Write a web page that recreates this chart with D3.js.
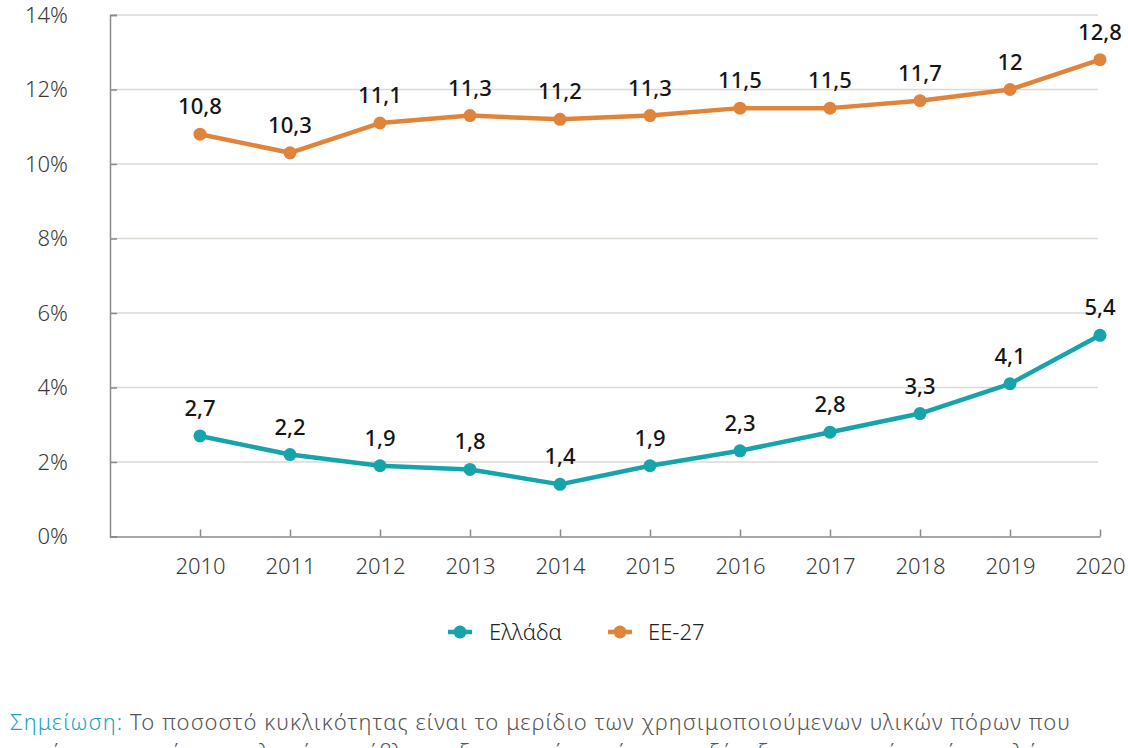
<!DOCTYPE html>
<html>
<head>
<meta charset="utf-8">
<script src="https://cdn.jsdelivr.net/npm/d3@7"></script>
<style>
  body { margin: 0; background: #fff; }
  svg { display: block; font-family: "Noto Sans", "DejaVu Sans", sans-serif; }
</style>
</head>
<body>
<div id="chart"></div>
<script>
// data
const years = ["2010", "2011", "2012", "2013", "2014", "2015", "2016", "2017", "2018", "2019", "2020"];
const greece = [2.7, 2.2, 1.9, 1.8, 1.4, 1.9, 2.3, 2.8, 3.3, 4.1, 5.4];
const eu27 = [10.8, 10.3, 11.1, 11.3, 11.2, 11.3, 11.5, 11.5, 11.7, 12, 12.8];
const yTicks = [0, 2, 4, 6, 8, 10, 12, 14];
const seriesNames = ["Ελλάδα", "ΕΕ-27"];
const noteLabel = "Σημείωση:";
const noteLine1 = " Το ποσοστό κυκλικότητας είναι το μερίδιο των χρησιμοποιούμενων υλικών πόρων που";
const noteLine2 = "προέρχονται από ανακυκλωμένα απόβλητα, εξοικονομώντας έτσι την εξόρυξη πρωτογενών πρώτων υλών";

const width = 1128, height = 748;
const colors = {"Ελλάδα": "#17a3ac", "ΕΕ-27": "#e0843b"};

const svg = d3.select("#chart").append("svg")
    .attr("width", width)
    .attr("height", height);

// x has an empty slot at the start so 2010 sits one step in from the axis
const x = d3.scalePoint()
    .domain([""].concat(years))
    .range([110, 1100]);

const y = d3.scaleLinear()
    .domain([0, 14])
    .range([536.5, 15]);

// grid lines
svg.append("g")
    .selectAll("line")
    .data(yTicks.filter(d => d > 0))
    .join("line")
    .attr("x1", 110)
    .attr("x2", 1098)
    .attr("y1", d => y(d))
    .attr("y2", d => y(d))
    .attr("stroke", "#dcd9d3")
    .attr("stroke-width", 1.5);

// y axis
const yAxis = svg.append("g")
    .attr("transform", "translate(110,0)")
    .call(d3.axisLeft(y).tickValues(yTicks).tickSize(-7).tickPadding(42).tickFormat(d => d + "%"));
yAxis.select(".domain").attr("stroke", "#8a8a8a").attr("stroke-width", 1.5);
yAxis.selectAll(".tick line").attr("stroke", "#8a8a8a").attr("stroke-width", 1.5);
yAxis.selectAll(".tick text")
    .attr("font-size", 22)
    .attr("fill", "#3a3a3a")
    .attr("font-weight", 300)
    .attr("font-family", "'Noto Sans', sans-serif");

// x axis
const xAxis = svg.append("g")
    .attr("transform", `translate(0,${y(0)})`)
    .call(d3.axisBottom(x).tickValues(years).tickSize(-7).tickSizeOuter(0).tickPadding(22));
xAxis.select(".domain").attr("stroke", "#8a8a8a").attr("stroke-width", 1.5);
xAxis.selectAll(".tick line").attr("stroke", "#8a8a8a").attr("stroke-width", 1.5);
xAxis.selectAll(".tick text")
    .attr("font-size", 22)
    .attr("fill", "#3a3a3a")
    .attr("font-weight", 300)
    .attr("font-family", "'Noto Sans', sans-serif");

// series
const series = [
    {name: seriesNames[0], values: greece},
    {name: seriesNames[1], values: eu27}
];

const line = d3.line()
    .x((d, i) => x(years[i]))
    .y(d => y(d));

series.forEach(s => {
    const g = svg.append("g");
    g.append("path")
        .datum(s.values)
        .attr("fill", "none")
        .attr("stroke", colors[s.name])
        .attr("stroke-width", 4.5)
        .attr("stroke-linejoin", "round")
        .attr("d", line);

    g.selectAll("circle")
        .data(s.values)
        .join("circle")
        .attr("cx", (d, i) => x(years[i]))
        .attr("cy", d => y(d))
        .attr("r", 6.5)
        .attr("fill", colors[s.name]);

    g.selectAll("text")
        .data(s.values)
        .join("text")
        .attr("x", (d, i) => x(years[i]))
        .attr("y", d => y(d) - 20)
        .attr("text-anchor", "middle")
        .attr("font-size", 22)
        .attr("font-weight", 500)
        .attr("fill", "#151515")
        .text(d => String(d).replace(".", ","));
});

// legend
const legendPos = [{x: 460, tx: 489}, {x: 620, tx: 648}];
series.forEach((s, i) => {
    const lg = svg.append("g");
    lg.append("line")
        .attr("x1", legendPos[i].x - 12)
        .attr("x2", legendPos[i].x + 12)
        .attr("y1", 632)
        .attr("y2", 632)
        .attr("stroke", colors[s.name])
        .attr("stroke-width", 4.5);
    lg.append("circle")
        .attr("cx", legendPos[i].x)
        .attr("cy", 632)
        .attr("r", 6.5)
        .attr("fill", colors[s.name]);
    lg.append("text")
        .attr("x", legendPos[i].tx)
        .attr("y", 640)
        .attr("font-size", 22)
        .attr("font-weight", 300)
        .attr("fill", "#222")
        .text(s.name);
});

// note
const note = svg.append("text")
    .attr("x", 10)
    .attr("y", 730)
    .attr("font-size", 22)
    .attr("font-weight", 300)
    .attr("textLength", 1060)
    .attr("lengthAdjust", "spacing")
    .attr("fill", "#555");
note.append("tspan").attr("fill", "#1aa6b4").text(noteLabel);
note.append("tspan").text(noteLine1);

svg.append("text")
    .attr("x", 10)
    .attr("y", 760)
    .attr("font-size", 22)
    .attr("font-weight", 300)
    .attr("fill", "#555")
    .text(noteLine2);
</script>
</body>
</html>
